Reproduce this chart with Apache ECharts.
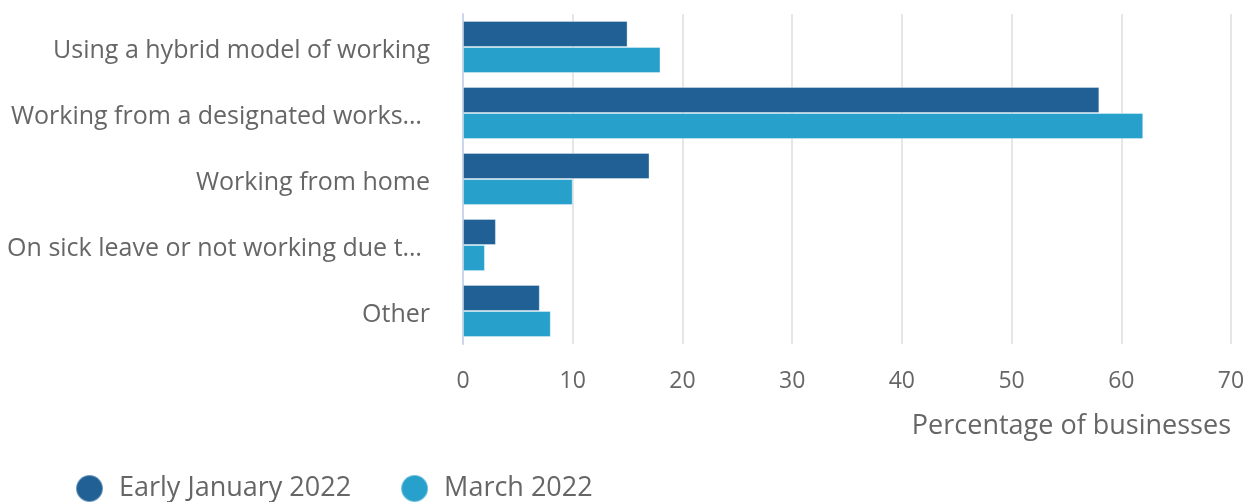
<!DOCTYPE html>
<html><head><meta charset="utf-8">
<script src="https://cdn.jsdelivr.net/npm/echarts@6/dist/echarts.min.js"></script>
<style>html,body{margin:0;padding:0;background:#fff}#c{width:1255px;height:502px}</style>
</head><body><div id="c"></div>
<script>
const categories = ["Using a hybrid model of working","Working from a designated works…","Working from home","On sick leave or not working due t…","Other"];
const seriesNames = ["Early January 2022","March 2022"];
const earlyJan = [15,58,17,3,7];
const march2022 = [18,62,10,2,8];
const xTicks = [0,10,20,30,40,50,60,70];

const chart = echarts.init(document.getElementById('c'));
const font = '"Open Sans", sans-serif';
const lblStyle = {fontFamily:font,fontSize:25,color:'#666'};
chart.setOption({
  animation:false,
  textStyle:{fontFamily:font},
  grid:{left:463,right:24,top:14,bottom:158,containLabel:false},
  legend:{
    left:70, top:469, icon:'circle', itemWidth:27, itemHeight:27, itemGap:49,
    textStyle:{fontFamily:font,fontSize:27,color:'#666',padding:[0,0,0,11]},
    data:seriesNames
  },
  xAxis:{
    type:'value', min:xTicks[0], max:xTicks[xTicks.length-1], interval:10,
    axisLine:{show:false}, axisTick:{show:false},
    splitLine:{lineStyle:{color:'#e6e6e6',width:2}},
    axisLabel:{fontFamily:font,fontSize:23,color:'#666',margin:26},
    name:'Percentage of businesses', nameLocation:'end', nameGap:0,
    nameTextStyle:{fontFamily:font,fontSize:27,color:'#666',align:'right',verticalAlign:'top',padding:[69,0,0,0]}
  },
  yAxis:{
    type:'category', inverse:true, data:categories,
    axisLine:{lineStyle:{color:'#ccd6eb',width:2}},
    axisTick:{length:21,lineStyle:{color:'#ccd6eb',width:2}},
    axisLabel:{
      fontFamily:font,fontSize:25,color:'#666',margin:33,
      formatter:function(v){ return v.endsWith('…') ? '{tr|'+v+'}' : '{n|'+v+'}'; },
      rich:{n:Object.assign({padding:[7,0,0,0]},lblStyle), tr:Object.assign({padding:[7,8,0,0]},lblStyle)}
    }
  },
  series:[
    {name:seriesNames[0],type:'bar',data:earlyJan,barGap:'0%',barCategoryGap:'21%',
     itemStyle:{color:'#206095',borderColor:'rgba(255,255,255,0.35)',borderWidth:1}},
    {name:seriesNames[1],type:'bar',data:march2022,barGap:'0%',barCategoryGap:'21%',
     itemStyle:{color:'#27a0cc',borderColor:'rgba(255,255,255,0.35)',borderWidth:1}}
  ]
});
</script></body></html>
